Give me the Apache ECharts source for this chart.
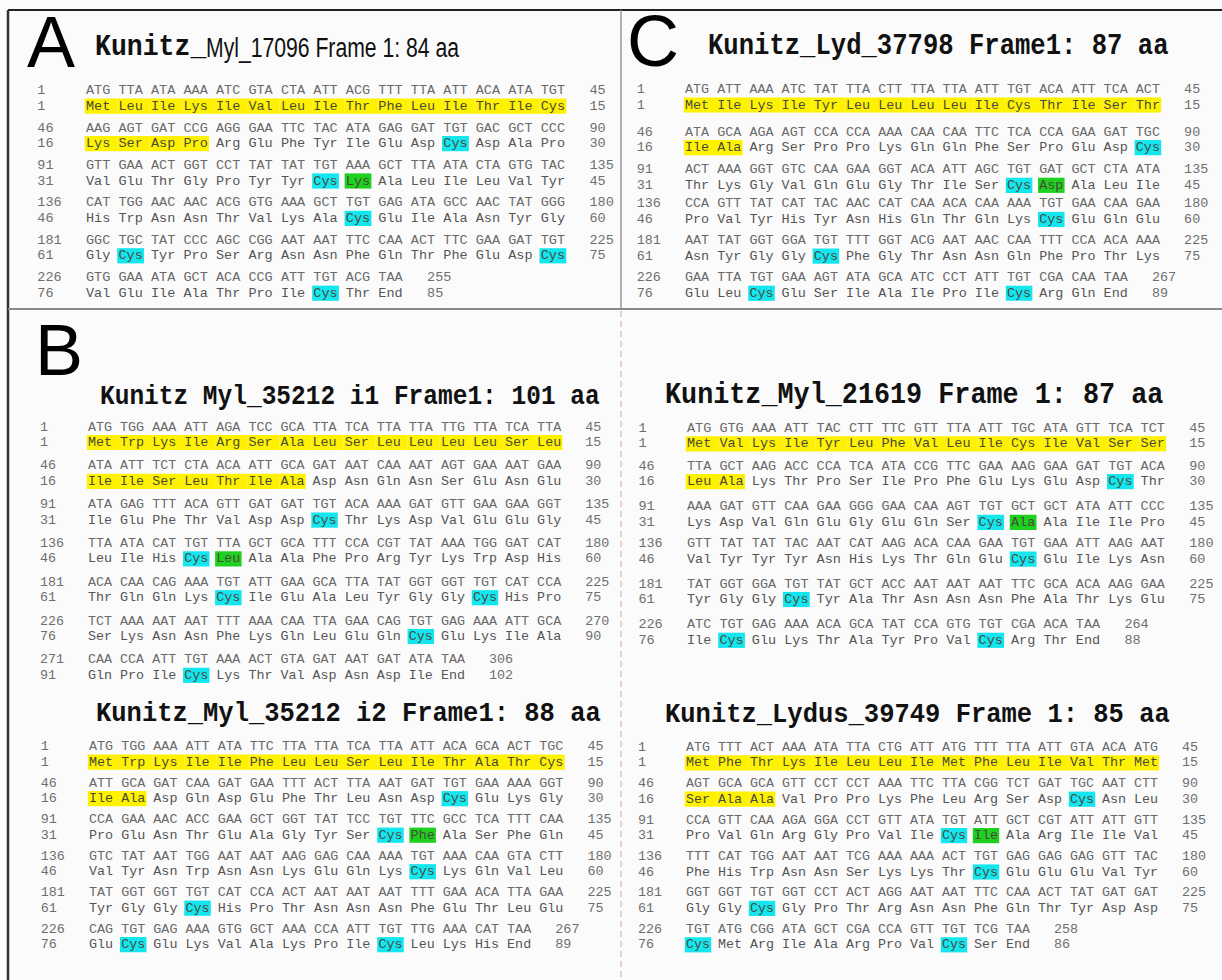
<!DOCTYPE html>
<html><head><meta charset="utf-8">
<script src="https://cdn.jsdelivr.net/npm/echarts@6/dist/echarts.min.js"></script>
<style>html,body{margin:0;padding:0;background:#fff}#c{width:1222px;height:980px}</style>
</head><body><div id="c"></div>
<script>
// ---------------- DATA ----------------
const A_TITLE = ["Kunitz_", "Myl_17096 Frame 1: 84 aa"];
const A_DNA = [
 "ATG TTA ATA AAA ATC GTA CTA ATT ACG TTT TTA ATT ACA ATA TGT",
 "AAG AGT GAT CCG AGG GAA TTC TAC ATA GAG GAT TGT GAC GCT CCC",
 "GTT GAA ACT GGT CCT TAT TAT TGT AAA GCT TTA ATA CTA GTG TAC",
 "CAT TGG AAC AAC ACG GTG AAA GCT TGT GAG ATA GCC AAC TAT GGG",
 "GGC TGC TAT CCC AGC CGG AAT AAT TTC CAA ACT TTC GAA GAT TGT",
 "GTG GAA ATA GCT ACA CCG ATT TGT ACG TAA"];
const A_PROT = [
 "Met Leu Ile Lys Ile Val Leu Ile Thr Phe Leu Ile Thr Ile Cys",
 "Lys Ser Asp Pro Arg Glu Phe Tyr Ile Glu Asp Cys Asp Ala Pro",
 "Val Glu Thr Gly Pro Tyr Tyr Cys Lys Ala Leu Ile Leu Val Tyr",
 "His Trp Asn Asn Thr Val Lys Ala Cys Glu Ile Ala Asn Tyr Gly",
 "Gly Cys Tyr Pro Ser Arg Asn Asn Phe Gln Thr Phe Glu Asp Cys",
 "Val Glu Ile Ala Thr Pro Ile Cys Thr End"];
const A_ENDS = [255, 85];      // last DNA / protein numbers
const A_SIGNAL = 19;           // yellow residues
const A_GREEN = [39];

const C_TITLE = "Kunitz_Lyd_37798 Frame1: 87 aa";
const C_DNA = [
 "ATG ATT AAA ATC TAT TTA CTT TTA TTA ATT TGT ACA ATT TCA ACT",
 "ATA GCA AGA AGT CCA CCA AAA CAA CAA TTC TCA CCA GAA GAT TGC",
 "ACT AAA GGT GTC CAA GAA GGT ACA ATT AGC TGT GAT GCT CTA ATA",
 "CCA GTT TAT CAT TAC AAC CAT CAA ACA CAA AAA TGT GAA CAA GAA",
 "AAT TAT GGT GGA TGT TTT GGT ACG AAT AAC CAA TTT CCA ACA AAA",
 "GAA TTA TGT GAA AGT ATA GCA ATC CCT ATT TGT CGA CAA TAA"];
const C_PROT = [
 "Met Ile Lys Ile Tyr Leu Leu Leu Leu Ile Cys Thr Ile Ser Thr",
 "Ile Ala Arg Ser Pro Pro Lys Gln Gln Phe Ser Pro Glu Asp Cys",
 "Thr Lys Gly Val Gln Glu Gly Thr Ile Ser Cys Asp Ala Leu Ile",
 "Pro Val Tyr His Tyr Asn His Gln Thr Gln Lys Cys Glu Gln Glu",
 "Asn Tyr Gly Gly Cys Phe Gly Thr Asn Asn Gln Phe Pro Thr Lys",
 "Glu Leu Cys Glu Ser Ile Ala Ile Pro Ile Cys Arg Gln End"];
const C_ENDS = [267, 89];
const C_SIGNAL = 17;
const C_GREEN = [42];

const B1_TITLE = "Kunitz Myl_35212 i1 Frame1: 101 aa";
const B1_DNA = [
 "ATG TGG AAA ATT AGA TCC GCA TTA TCA TTA TTA TTG TTA TCA TTA",
 "ATA ATT TCT CTA ACA ATT GCA GAT AAT CAA AAT AGT GAA AAT GAA",
 "ATA GAG TTT ACA GTT GAT GAT TGT ACA AAA GAT GTT GAA GAA GGT",
 "TTA ATA CAT TGT TTA GCT GCA TTT CCA CGT TAT AAA TGG GAT CAT",
 "ACA CAA CAG AAA TGT ATT GAA GCA TTA TAT GGT GGT TGT CAT CCA",
 "TCT AAA AAT AAT TTT AAA CAA TTA GAA CAG TGT GAG AAA ATT GCA",
 "CAA CCA ATT TGT AAA ACT GTA GAT AAT GAT ATA TAA"];
const B1_PROT = [
 "Met Trp Lys Ile Arg Ser Ala Leu Ser Leu Leu Leu Leu Ser Leu",
 "Ile Ile Ser Leu Thr Ile Ala Asp Asn Gln Asn Ser Glu Asn Glu",
 "Ile Glu Phe Thr Val Asp Asp Cys Thr Lys Asp Val Glu Glu Gly",
 "Leu Ile His Cys Leu Ala Ala Phe Pro Arg Tyr Lys Trp Asp His",
 "Thr Gln Gln Lys Cys Ile Glu Ala Leu Tyr Gly Gly Cys His Pro",
 "Ser Lys Asn Asn Phe Lys Gln Leu Glu Gln Cys Glu Lys Ile Ala",
 "Gln Pro Ile Cys Lys Thr Val Asp Asn Asp Ile End"];
const B1_ENDS = [306, 102];
const B1_SIGNAL = 22;
const B1_GREEN = [50];

const B2_TITLE = "Kunitz_Myl_35212 i2 Frame1: 88 aa";
const B2_DNA = [
 "ATG TGG AAA ATT ATA TTC TTA TTA TCA TTA ATT ACA GCA ACT TGC",
 "ATT GCA GAT CAA GAT GAA TTT ACT TTA AAT GAT TGT GAA AAA GGT",
 "CCA GAA AAC ACC GAA GCT GGT TAT TCC TGT TTC GCC TCA TTT CAA",
 "GTC TAT AAT TGG AAT AAT AAG GAG CAA AAA TGT AAA CAA GTA CTT",
 "TAT GGT GGT TGT CAT CCA ACT AAT AAT AAT TTT GAA ACA TTA GAA",
 "CAG TGT GAG AAA GTG GCT AAA CCA ATT TGT TTG AAA CAT TAA"];
const B2_PROT = [
 "Met Trp Lys Ile Ile Phe Leu Leu Ser Leu Ile Thr Ala Thr Cys",
 "Ile Ala Asp Gln Asp Glu Phe Thr Leu Asn Asp Cys Glu Lys Gly",
 "Pro Glu Asn Thr Glu Ala Gly Tyr Ser Cys Phe Ala Ser Phe Gln",
 "Val Tyr Asn Trp Asn Asn Lys Glu Gln Lys Cys Lys Gln Val Leu",
 "Tyr Gly Gly Cys His Pro Thr Asn Asn Asn Phe Glu Thr Leu Glu",
 "Glu Cys Glu Lys Val Ala Lys Pro Ile Cys Leu Lys His End"];
const B2_ENDS = [267, 89];
const B2_SIGNAL = 17;
const B2_GREEN = [41];

const R1_TITLE = "Kunitz_Myl_21619 Frame 1: 87 aa";
const R1_DNA = [
 "ATG GTG AAA ATT TAC CTT TTC GTT TTA ATT TGC ATA GTT TCA TCT",
 "TTA GCT AAG ACC CCA TCA ATA CCG TTC GAA AAG GAA GAT TGT ACA",
 "AAA GAT GTT CAA GAA GGG GAA CAA AGT TGT GCT GCT ATA ATT CCC",
 "GTT TAT TAT TAC AAT CAT AAG ACA CAA GAA TGT GAA ATT AAG AAT",
 "TAT GGT GGA TGT TAT GCT ACC AAT AAT AAT TTC GCA ACA AAG GAA",
 "ATC TGT GAG AAA ACA GCA TAT CCA GTG TGT CGA ACA TAA"];
const R1_PROT = [
 "Met Val Lys Ile Tyr Leu Phe Val Leu Ile Cys Ile Val Ser Ser",
 "Leu Ala Lys Thr Pro Ser Ile Pro Phe Glu Lys Glu Asp Cys Thr",
 "Lys Asp Val Gln Glu Gly Glu Gln Ser Cys Ala Ala Ile Ile Pro",
 "Val Tyr Tyr Tyr Asn His Lys Thr Gln Glu Cys Glu Ile Lys Asn",
 "Tyr Gly Gly Cys Tyr Ala Thr Asn Asn Asn Phe Ala Thr Lys Glu",
 "Ile Cys Glu Lys Thr Ala Tyr Pro Val Cys Arg Thr End"];
const R1_ENDS = [264, 88];
const R1_SIGNAL = 17;
const R1_GREEN = [41];

const R2_TITLE = "Kunitz_Lydus_39749 Frame 1: 85 aa";
const R2_DNA = [
 "ATG TTT ACT AAA ATA TTA CTG ATT ATG TTT TTA ATT GTA ACA ATG",
 "AGT GCA GCA GTT CCT CCT AAA TTC TTA CGG TCT GAT TGC AAT CTT",
 "CCA GTT CAA AGA GGA CCT GTT ATA TGT ATT GCT CGT ATT ATT GTT",
 "TTT CAT TGG AAT AAT TCG AAA AAA ACT TGT GAG GAG GAG GTT TAC",
 "GGT GGT TGT GGT CCT ACT AGG AAT AAT TTC CAA ACT TAT GAT GAT",
 "TGT ATG CGG ATA GCT CGA CCA GTT TGT TCG TAA"];
const R2_PROT = [
 "Met Phe Thr Lys Ile Leu Leu Ile Met Phe Leu Ile Val Thr Met",
 "Ser Ala Ala Val Pro Pro Lys Phe Leu Arg Ser Asp Cys Asn Leu",
 "Pro Val Gln Arg Gly Pro Val Ile Cys Ile Ala Arg Ile Ile Val",
 "Phe His Trp Asn Asn Ser Lys Lys Thr Cys Glu Glu Glu Val Tyr",
 "Gly Gly Cys Gly Pro Thr Arg Asn Asn Phe Gln Thr Tyr Asp Asp",
 "Cys Met Arg Ile Ala Arg Pro Val Cys Ser End"];
const R2_ENDS = [258, 86];
const R2_SIGNAL = 18;
const R2_GREEN = [40];

const PANEL_LETTERS = ["A", "B", "C"];

// ---------------- LAYOUT (styles / positions) ----------------
const MONO = '"Liberation Mono", "Courier New", monospace';
const SANS = '"Liberation Sans", Arial, sans-serif';
const HL = {1: '#FFF200', 2: '#14E6F0', 3: '#1FD11F'};
const blocks = [
  {dna: A_DNA,  prot: A_PROT,  ends: A_ENDS,  signal: A_SIGNAL,  green: A_GREEN,  left: 86,  top: 90.7, cw: 8.12, pitch: 37.4},
  {dna: C_DNA,  prot: C_PROT,  ends: C_ENDS,  signal: C_SIGNAL,  green: C_GREEN,  left: 685, top: 89.5, cw: 8.05, pitch: 37.65, shift: [0, 5, 5, 1.5, 0.5, 0]},
  {dna: B1_DNA, prot: B1_PROT, ends: B1_ENDS, signal: B1_SIGNAL, green: B1_GREEN, left: 88,  top: 427,  cw: 8.02, pitch: 38.8},
  {dna: B2_DNA, prot: B2_PROT, ends: B2_ENDS, signal: B2_SIGNAL, green: B2_GREEN, left: 89,  top: 746.7,cw: 8.04, pitch: 36.5},
  {dna: R1_DNA, prot: R1_PROT, ends: R1_ENDS, signal: R1_SIGNAL, green: R1_GREEN, left: 687, top: 428.3,cw: 8.1,  pitch: 39.3, shift: [0, -1.5, 0, -2.5, -1.5, 0]},
  {dna: R2_DNA, prot: R2_PROT, ends: R2_ENDS, signal: R2_SIGNAL, green: R2_GREEN, left: 686, top: 747.3,cw: 8.0,  pitch: 36.4}
];
const PROT_GAP = 15.5; // px between DNA line and protein line

function buildItems(b) {
  const pOff = PROT_GAP / b.pitch;
  const items = [];
  const n = b.dna.length;
  b.dna.forEach((line, r) => {
    const cod = line.split(' ');
    const aas = b.prot[r].split(' ');
    const last = r === n - 1;
    const ry = r + (b.shift ? b.shift[r] / b.pitch : 0);
    items.push({c: -1.5, y: ry, t: String(r * 45 + 1), k: 'num'});
    items.push({c: -1.5, y: ry + pOff, t: String(r * 15 + 1), k: 'num'});
    cod.forEach((s, i) => items.push({c: i, y: ry, t: s, k: 'dna'}));
    aas.forEach((s, i) => {
      const pos = r * 15 + i + 1;
      let hl = 0;
      if (pos <= b.signal) hl = 1;
      else if (b.green.indexOf(pos) >= 0) hl = 3;
      else if (s === 'Cys') hl = 2;
      const cont = hl === 1 && pos + 1 <= b.signal && i < aas.length - 1;
      items.push({c: i, y: ry + pOff, t: s, k: 'aa', hl: hl, cont: cont});
    });
    items.push({c: cod.length + 0.5, y: ry, t: String(last ? b.ends[0] : (r + 1) * 45), k: 'num'});
    items.push({c: aas.length + 0.5, y: ry + pOff, t: String(last ? b.ends[1] : (r + 1) * 15), k: 'num'});
  });
  return items;
}

const grids = [], xAxes = [], yAxes = [], series = [];
blocks.forEach((b, gi) => {
  const n = b.dna.length;
  grids.push({left: b.left, top: b.top, width: 60 * b.cw, height: (n - 1) * b.pitch, containLabel: false});
  xAxes.push({type: 'value', gridIndex: gi, min: 0, max: 15, show: false});
  yAxes.push({type: 'value', gridIndex: gi, min: 0, max: n - 1, inverse: true, show: false});
  const items = buildItems(b);
  series.push({
    type: 'custom', xAxisIndex: gi, yAxisIndex: gi, clip: false, silent: true, animation: false,
    data: items.map(it => [it.c, it.y]),
    renderItem: function (params, api) {
      const it = items[params.dataIndex];
      const p = api.coord([it.c, it.y]);
      const p1 = api.coord([it.c + 1, it.y]);
      const cw = (p1[0] - p[0]) / 4;
      const fs = cw / 0.6;
      const children = [];
      if (it.hl) {
        const w = it.cont ? 4 * cw : 3.3 * cw;
        children.push({type: 'rect', shape: {x: p[0] - 0.15 * cw, y: p[1] - 7.6, width: w, height: 15.2},
          style: {fill: HL[it.hl]}});
      }
      const fill = it.k === 'dna' ? '#6a6a6a' : (it.k === 'num' ? '#6e6e6e' : (it.hl ? '#4a4a3a' : '#555555'));
      children.push({type: 'text', style: {x: p[0], y: p[1], text: it.t, fontFamily: MONO, fontSize: fs,
        fill: fill, align: 'left', verticalAlign: 'middle'}});
      return {type: 'group', children: children};
    }
  });
});

// titles, letters, frame lines
function title(txt, x, y, fs, font, bold, sx, sy) {
  return {type: 'text', x: x, y: y, scaleX: sx || 1, scaleY: sy || 1, silent: true,
    style: {text: txt, x: 0, y: 0, fontFamily: font, fontSize: fs, fontWeight: bold ? 'bold' : 'normal',
      fill: '#111', align: 'left', verticalAlign: 'middle'}};
}
function letter(txt, x, y) {
  return {type: 'text', silent: true, style: {text: txt, x: x, y: y, fontFamily: SANS, fontSize: 72,
    fill: '#000', align: 'left', verticalAlign: 'middle'}};
}
function line(x1, y1, x2, y2, color, w, dash) {
  return {type: 'line', silent: true, shape: {x1: x1, y1: y1, x2: x2, y2: y2},
    style: {stroke: color, lineWidth: w, lineDash: dash || null}};
}
const graphic = [
  line(8, 10, 1222, 10, '#222', 2),
  line(8, 10, 8, 980, '#333', 2.5),
  line(621, 10, 621, 309, '#9a9a9a', 1.5),
  line(8, 309, 1222, 309, '#8a8a8a', 2),
  line(621, 311, 621, 980, '#d9b3b3', 1.2, [6, 4]),
  letter(PANEL_LETTERS[0], 27, 42.3),
  letter(PANEL_LETTERS[1], 35, 350),
  letter(PANEL_LETTERS[2], 627, 41.3),
  title(A_TITLE[0], 95, 47, 26.5, MONO, true, 1, 1.12),
  title(A_TITLE[1], 206, 47, 27.5, SANS, false, 0.77, 1),
  title(C_TITLE, 708, 46, 25.6, MONO, true, 1, 1.12),
  title(B1_TITLE, 100, 397, 24.5, MONO, true, 1, 1.12),
  title(B2_TITLE, 96, 713, 25.5, MONO, true, 1, 1.12),
  title(R1_TITLE, 665, 395, 26.8, MONO, true, 1, 1.12),
  title(R2_TITLE, 665, 714, 25.5, MONO, true, 1, 1.12)
];

const chart = echarts.init(document.getElementById('c'), null, {renderer: 'svg', width: 1222, height: 980});
chart.setOption({
  backgroundColor: '#fbfbfb',
  animation: false,
  grid: grids, xAxis: xAxes, yAxis: yAxes, series: series,
  graphic: graphic
});
</script></body></html>
